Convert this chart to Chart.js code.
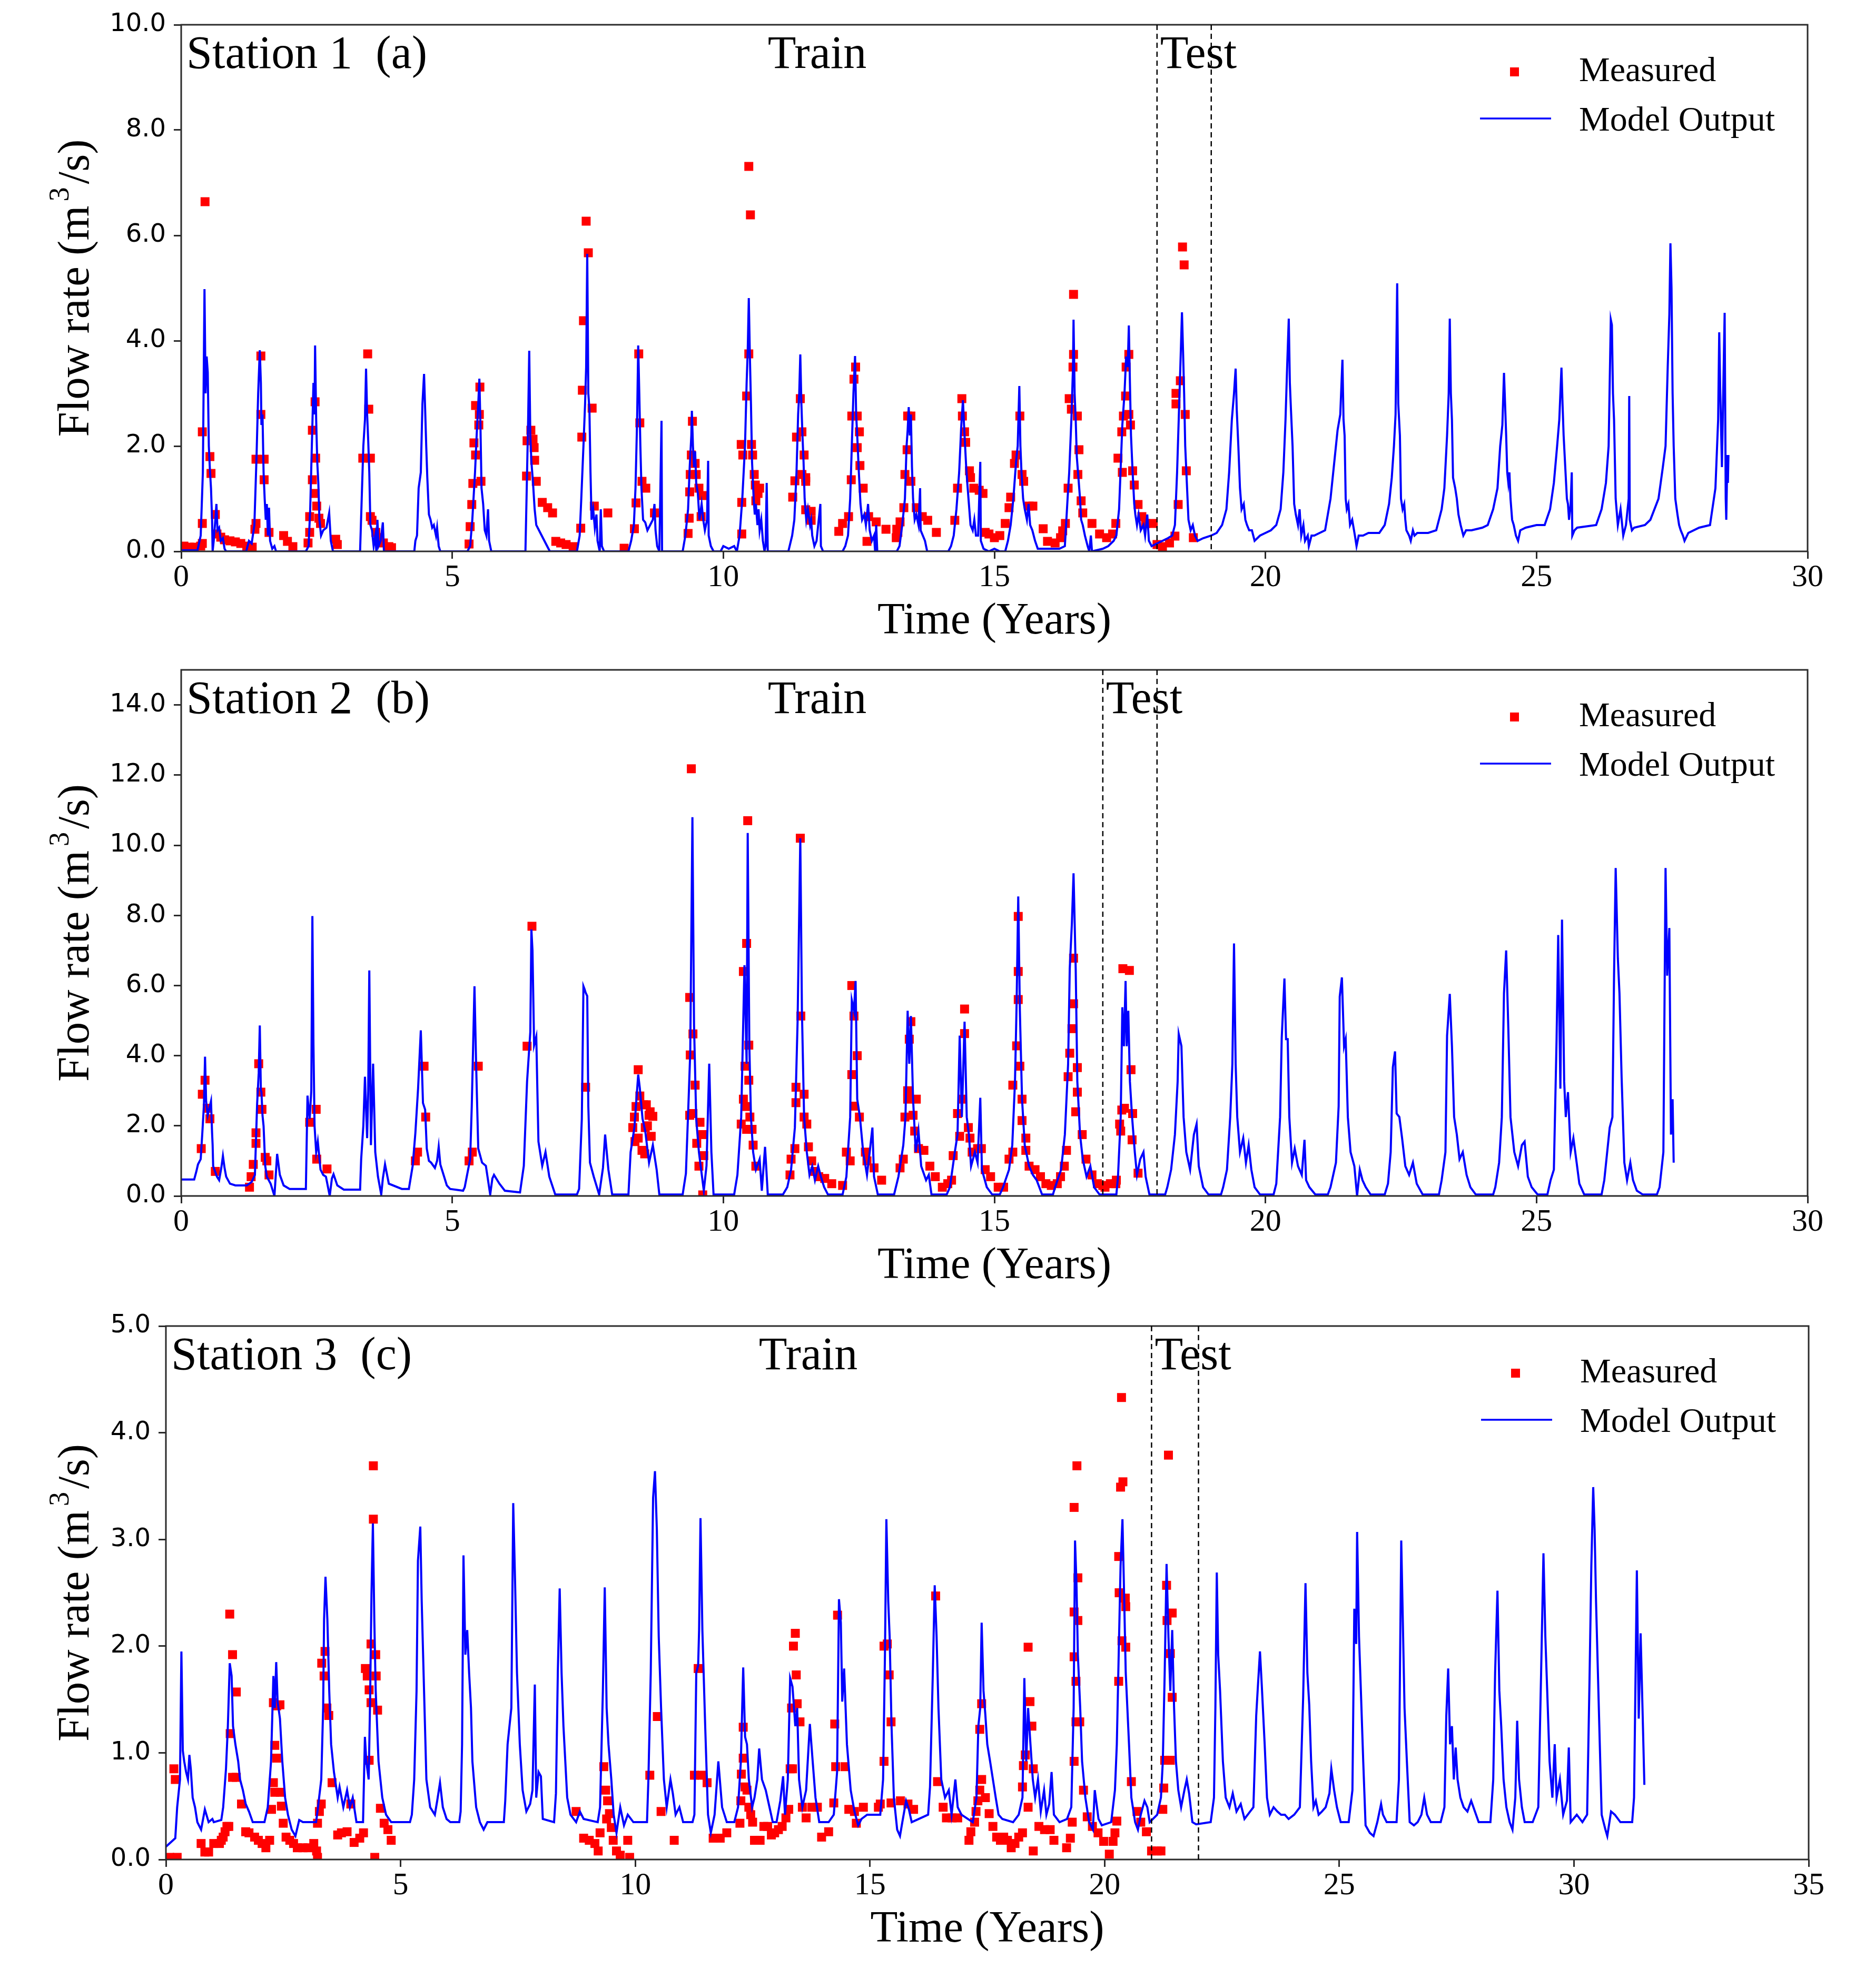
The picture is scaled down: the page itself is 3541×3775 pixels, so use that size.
<!DOCTYPE html>
<html lang="en">
<head>
<meta charset="UTF-8">
<title>Flow rate: measured vs model output</title>
<script src="https://cdn.jsdelivr.net/npm/chart.js"></script>
<style>
  body { margin: 0; background: #fff; width: 3541px; height: 3775px; position: relative; overflow: hidden; }
  canvas { position: absolute; left: 0; }
</style>
</head>
<body>
<canvas id="panel1" width="3541" height="1222" style="top:0px"></canvas>
<canvas id="panel2" width="3541" height="1246" style="top:1222px"></canvas>
<canvas id="panel3" width="3541" height="1307" style="top:2468px"></canvas>
<script>
// ---- data: [time in years, flow in m3/s] ----

// Station 1
const s1Split = [18, 19];
const s1Model = [
  [0,0.02],[0.3,0.02],[0.36,0.3],[0.4,1.5],[0.43,4.98],[0.45,3.0],[0.47,3.7],[0.49,3.4],[0.51,2.0],[0.53,1.55],[0.55,1.2],[0.57,0.6],[0.58,0],[0.6,0.2],[0.63,0.6],[0.65,0.9],[0.67,0.4],[0.7,0.45],[0.73,0.2],[0.77,0.25],[0.8,0.05],[0.83,0],
  [1.2,0],[1.25,0.2],[1.3,0.15],[1.35,0.5],[1.39,1.8],[1.42,3.0],[1.45,3.82],[1.47,3.2],[1.48,2.4],[1.5,2.6],[1.52,1.5],[1.54,1.0],[1.56,0.6],[1.58,0.9],[1.6,0.3],[1.62,0.83],[1.64,0.2],[1.68,0.05],[1.72,0.1],[1.75,0],
  [2.3,0],[2.35,0.1],[2.38,0.8],[2.41,2.0],[2.44,3.2],[2.46,2.6],[2.47,3.91],[2.49,2.5],[2.51,1.7],[2.53,1.3],[2.55,0.6],[2.58,0.3],[2.62,0.4],[2.68,0.45],[2.73,0.73],[2.76,0.2],[2.8,0],
  [3.3,0],[3.33,1.0],[3.36,2.0],[3.39,2.5],[3.41,3.47],[3.43,2.6],[3.45,2.1],[3.47,1.5],[3.49,0.5],[3.52,0.4],[3.55,0.1],[3.58,0.3],[3.6,0],[3.62,0.6],[3.64,0.1],[3.68,0.2],[3.72,0.55],[3.74,0],
  [4.3,0],[4.32,0.2],[4.35,0.3],[4.38,1.2],[4.42,1.5],[4.45,2.8],[4.48,3.37],[4.5,2.7],[4.52,2.0],[4.54,1.4],[4.57,0.7],[4.6,0.6],[4.63,0.45],[4.66,0.5],[4.7,0.3],[4.72,0.45],[4.75,0.1],[4.78,0],
  [5.28,0],[5.33,0.1],[5.37,0.6],[5.42,1.5],[5.45,2.2],[5.48,2.8],[5.5,3.28],[5.52,2.4],[5.54,1.2],[5.57,0.9],[5.6,0.4],[5.63,0.3],[5.66,0.8],[5.68,0.2],[5.72,0],
  [6.35,0],[6.38,1.5],[6.4,2.5],[6.42,3.81],[6.44,2.2],[6.46,1.7],[6.49,1.3],[6.52,0.8],[6.55,0.5],[6.6,0.4],[6.65,0.3],[6.7,0.2],[6.75,0.1],[6.8,0],
  [7.3,0],[7.35,0.3],[7.38,1.0],[7.42,2.0],[7.45,2.8],[7.47,3.5],[7.49,5.65],[7.51,3.0],[7.53,2.7],[7.55,1.5],[7.57,0.6],[7.6,0.8],[7.63,0.45],[7.66,0.7],[7.68,0.2],[7.72,0],[7.74,0.8],[7.76,0.1],[7.8,0],
  [8.25,0],[8.3,0.2],[8.35,0.5],[8.38,1.2],[8.41,2.5],[8.43,3.91],[8.45,3.0],[8.47,2.0],[8.49,1.2],[8.52,0.6],[8.56,0.55],[8.6,0.4],[8.65,0.5],[8.7,0.6],[8.73,0.9],[8.75,0.4],[8.78,0.1],[8.82,0],[8.86,2.48],[8.87,0],
  [9.25,0],[9.3,0.3],[9.35,0.8],[9.38,1.6],[9.41,2.2],[9.42,2.67],[9.44,2.0],[9.46,1.6],[9.48,1.9],[9.5,1.3],[9.53,1.1],[9.56,0.6],[9.6,0.9],[9.63,0.6],[9.66,0.4],[9.7,0.6],[9.72,1.72],[9.73,0.3],[9.77,0.1],[9.82,0],
  [9.95,0],[10.0,0.1],[10.1,0.05],[10.2,0.1],[10.25,0],[10.3,0.3],[10.35,1.0],[10.4,2.0],[10.43,3.2],[10.45,3.8],[10.47,4.81],[10.49,3.7],[10.51,2.8],[10.53,1.7],[10.56,1.0],[10.58,0.7],[10.6,0.9],[10.63,0.5],[10.65,0.8],[10.67,0.4],[10.7,0.6],[10.73,0.2],[10.76,0],[10.78,0.1],[10.8,1.3],[10.82,0],
  [11.2,0],[11.27,0.3],[11.31,0.6],[11.35,1.5],[11.38,2.6],[11.4,3.0],[11.42,3.74],[11.44,2.8],[11.46,2.2],[11.48,1.7],[11.5,1.0],[11.53,0.6],[11.56,0.8],[11.6,0.5],[11.62,0.6],[11.64,0.3],[11.68,0.1],[11.72,0.2],[11.79,0.9],[11.8,0.1],[11.84,0],
  [12.2,0],[12.25,0.1],[12.3,0.3],[12.34,1.0],[12.37,2.0],[12.4,3.0],[12.43,3.71],[12.45,2.6],[12.47,2.2],[12.5,1.5],[12.53,0.9],[12.56,0.6],[12.6,0.7],[12.63,0.5],[12.67,0.9],[12.7,0.4],[12.74,0.2],[12.78,0.3],[12.8,0],[12.82,0.5],[12.84,0],
  [13.2,0],[13.25,0.1],[13.3,0.5],[13.35,1.0],[13.38,2.0],[13.4,2.3],[13.42,2.74],[13.44,2.2],[13.46,2.6],[13.48,1.6],[13.5,1.0],[13.53,0.6],[13.56,0.7],[13.6,0.5],[13.63,1.2],[13.64,0.4],[13.68,0.3],[13.72,0.2],[13.76,0],
  [14.15,0],[14.2,0.1],[14.25,0.3],[14.3,0.8],[14.35,1.5],[14.39,2.4],[14.42,2.87],[14.44,2.4],[14.46,2.0],[14.48,1.6],[14.5,1.3],[14.53,0.9],[14.56,0.5],[14.6,0.4],[14.63,0.6],[14.66,0.3],[14.7,0.3],[14.74,1.7],[14.75,0.2],[14.8,0.05],[14.9,0],[15.0,0.05],[15.1,0],
  [15.2,0],[15.25,0.2],[15.3,0.5],[15.35,1.0],[15.4,1.7],[15.43,2.0],[15.46,3.14],[15.48,2.0],[15.5,1.5],[15.53,1.0],[15.56,0.8],[15.6,0.6],[15.63,0.9],[15.66,0.5],[15.7,0.4],[15.75,0.2],[15.8,0.05],[16.2,0.05],
  [16.3,0.1],[16.35,1.0],[16.38,1.5],[16.42,2.5],[16.45,3.5],[16.46,4.4],[16.48,3.0],[16.5,2.5],[16.52,1.8],[16.55,1.4],[16.58,1.0],[16.6,0.6],[16.63,0.5],[16.67,0.3],[16.72,0.1],[16.75,0],[16.78,0.3],[16.8,0],[17.0,0.05],[17.1,0.1],[17.2,0.2],
  [17.25,0.3],[17.3,0.8],[17.33,1.6],[17.36,2.4],[17.4,3.0],[17.43,3.7],[17.46,3.5],[17.48,4.29],[17.5,3.2],[17.52,2.2],[17.55,1.5],[17.58,0.9],[17.6,0.7],[17.63,0.5],[17.66,0.7],[17.7,0.4],[17.75,0.5],[17.78,0.3],[17.82,0.7],[17.85,0.2],[17.9,0.1],[18.0,0.15],
  [18.1,0.2],[18.2,0.25],[18.28,0.3],[18.33,0.5],[18.37,1.5],[18.4,2.5],[18.43,3.5],[18.46,4.54],[18.48,3.8],[18.5,3.0],[18.52,2.0],[18.55,1.3],[18.58,0.6],[18.62,0.4],[18.66,0.5],[18.7,0.3],[18.75,0.2],[18.85,0.25],
  [19.0,0.3],[19.1,0.35],[19.2,0.5],[19.28,0.8],[19.33,1.5],[19.38,2.5],[19.42,3.0],[19.45,3.47],[19.47,2.7],[19.5,2.0],[19.53,1.2],[19.56,0.8],[19.6,0.9],[19.63,0.6],[19.66,0.5],[19.7,0.4],[19.75,0.4],[19.8,0.2],[19.9,0.3],
  [20.0,0.35],[20.1,0.4],[20.2,0.5],[20.28,0.8],[20.33,1.5],[20.37,2.5],[20.4,3.5],[20.43,4.42],[20.45,3.2],[20.47,2.7],[20.5,2.0],[20.53,0.9],[20.56,0.7],[20.6,0.5],[20.63,0.8],[20.66,0.3],[20.7,0.5],[20.73,0.2],[20.78,0.3],[20.8,0.1],[20.85,0.3],[20.9,0.3],
  [21.0,0.35],[21.1,0.4],[21.2,1.0],[21.28,1.8],[21.33,2.3],[21.38,2.6],[21.42,3.64],[21.44,2.5],[21.46,2.2],[21.48,1.0],[21.5,0.8],[21.53,0.9],[21.56,0.5],[21.6,0.6],[21.65,0.3],[21.68,0.1],[21.72,0.3],[21.8,0.3],[21.9,0.35],
  [22.1,0.35],[22.2,0.5],[22.28,0.9],[22.33,1.4],[22.37,2.0],[22.4,2.6],[22.43,5.09],[22.45,2.8],[22.48,2.2],[22.5,1.0],[22.53,0.8],[22.56,0.9],[22.58,0.6],[22.6,0.4],[22.65,0.3],[22.68,0.2],[22.72,0.4],[22.75,0.3],[22.8,0.35],
  [23.0,0.35],[23.15,0.4],[23.25,0.8],[23.3,1.2],[23.35,2.2],[23.38,3.0],[23.4,4.42],[23.42,3.0],[23.44,2.5],[23.46,1.4],[23.5,1.2],[23.53,1.0],[23.56,0.7],[23.6,0.5],[23.65,0.3],[23.7,0.4],[23.8,0.4],
  [24.0,0.45],[24.1,0.5],[24.2,0.8],[24.28,1.2],[24.33,2.0],[24.37,2.4],[24.4,3.39],[24.42,2.8],[24.44,2.2],[24.46,1.5],[24.48,1.3],[24.5,1.5],[24.52,1.0],[24.55,0.6],[24.58,0.5],[24.62,0.3],[24.66,0.2],[24.7,0.4],[24.8,0.45],
  [25.0,0.5],[25.15,0.5],[25.25,0.8],[25.32,1.3],[25.38,2.0],[25.42,2.5],[25.46,3.49],[25.48,2.8],[25.5,2.2],[25.53,1.6],[25.56,1.0],[25.58,0.9],[25.6,0.6],[25.63,0.9],[25.65,1.5],[25.66,0.3],[25.7,0.4],[25.75,0.45],
  [26.1,0.5],[26.2,0.8],[26.28,1.3],[26.33,2.0],[26.37,4.4],[26.39,4.3],[26.41,3.0],[26.43,2.5],[26.46,1.0],[26.5,0.5],[26.55,0.8],[26.6,0.3],[26.65,0.5],[26.7,1.0],[26.71,2.95],[26.72,0.6],[26.76,0.4],[26.8,0.45],
  [27.0,0.5],[27.1,0.6],[27.25,1.0],[27.33,1.6],[27.38,2.0],[27.42,3.5],[27.45,4.5],[27.47,5.85],[27.49,5.0],[27.51,3.0],[27.53,2.0],[27.56,1.0],[27.6,0.7],[27.63,0.5],[27.66,0.4],[27.7,0.3],[27.73,0.2],[27.8,0.35],
  [28.0,0.45],[28.2,0.5],[28.3,1.2],[28.35,2.5],[28.37,4.16],[28.39,3.0],[28.42,1.6],[28.44,2.8],[28.47,4.53],[28.49,1.0],[28.5,0.6],[28.52,1.83],[28.53,1.3],[28.54,1.83]
];
const s1Measured = [
  [0.05,0.1],[0.15,0.08],[0.25,0.08],[0.36,0.1],[0.39,0.15],[0.39,0.53],[0.39,2.27],[0.44,6.64],[0.53,1.8],[0.55,1.48],[0.63,0.7],[0.66,0.33],[0.73,0.27],[0.8,0.22],[0.9,0.2],[1.0,0.18],[1.1,0.15],[1.21,0.1],[1.31,0.08],
  [1.36,0.42],[1.38,0.53],[1.38,1.75],[1.47,3.71],[1.47,2.6],[1.53,1.75],[1.53,1.36],[1.62,0.36],[1.89,0.3],[1.96,0.19],[2.06,0.09],
  [2.34,0.16],[2.37,0.36],[2.37,0.66],[2.42,1.36],[2.42,2.3],[2.47,2.84],[2.48,1.77],[2.47,1.1],[2.5,0.86],[2.54,0.63],[2.57,0.53],[2.85,0.23],[2.88,0.13],
  [3.35,1.77],[3.44,3.75],[3.46,2.7],[3.49,1.77],[3.49,0.66],[3.52,0.59],[3.59,0.36],[3.66,0.26],[3.73,0.16],[3.83,0.09],[3.88,0.07],
  [5.31,0.14],[5.33,0.47],[5.36,0.89],[5.38,1.29],[5.4,2.06],[5.43,1.83],[5.43,2.77],[5.49,2.4],[5.5,2.6],[5.51,3.12],[5.53,1.33],
  [6.37,1.43],[6.38,2.1],[6.45,2.3],[6.49,2.13],[6.51,1.97],[6.52,1.73],[6.55,1.33],[6.66,0.93],[6.76,0.83],[6.85,0.73],[6.91,0.19],[7.0,0.16],[7.1,0.13],[7.23,0.09],
  [7.37,0.44],[7.39,2.17],[7.4,3.06],[7.42,4.38],[7.47,6.27],[7.51,5.67],[7.58,2.72],[7.62,0.86],[7.87,0.73],
  [8.17,0.06],[8.36,0.43],[8.39,0.92],[8.44,3.75],[8.46,2.44],[8.5,1.33],[8.57,1.2],[8.73,0.73],
  [9.35,0.34],[9.37,0.63],[9.38,1.13],[9.39,1.46],[9.41,1.83],[9.43,2.47],[9.48,1.67],[9.5,1.46],[9.55,1.2],[9.62,1.06],[9.59,0.66],
  [10.34,0.93],[10.34,0.33],[10.33,2.03],[10.36,1.83],[10.43,2.95],[10.47,3.75],[10.47,7.31],[10.5,6.39],[10.52,2.03],[10.54,1.83],[10.57,1.46],[10.59,1.26],[10.64,1.1],[10.6,0.96],[10.67,1.2],
  [11.28,1.03],[11.32,1.34],[11.35,2.17],[11.42,2.9],[11.45,2.27],[11.49,1.83],[11.45,1.46],[11.52,1.4],[11.52,1.33],[11.52,0.79],[11.62,0.76],[11.62,0.59],
  [12.13,0.38],[12.2,0.53],[12.31,0.66],[12.36,1.36],[12.37,2.57],[12.41,3.27],[12.44,3.5],[12.47,2.57],[12.51,2.27],[12.47,1.97],[12.52,1.63],[12.58,1.2],[12.68,0.66],[12.82,0.56],[12.65,0.19],[13.0,0.42],[13.2,0.42],[13.26,0.56],
  [13.33,0.83],[13.35,1.46],[13.39,1.93],[13.4,2.57],[13.46,2.57],[13.46,1.33],[13.56,0.83],[13.67,0.66],[13.77,0.59],[13.93,0.36],[13.19,0.26],[13.22,0.36],
  [14.27,0.59],[14.32,1.2],[14.4,2.9],[14.41,2.57],[14.45,2.27],[14.47,2.07],[14.54,1.53],[14.56,1.4],[14.62,1.2],[14.72,1.16],[14.79,1.1],[14.83,0.36],[14.9,0.33],[15.0,0.26],[15.1,0.3],[15.2,0.53],
  [15.27,0.83],[15.3,1.03],[15.37,1.67],[15.4,1.83],[15.47,2.57],[15.51,1.46],[15.54,1.33],[15.64,0.86],[15.71,0.86],[15.9,0.43],[15.98,0.19],[16.12,0.16],[16.22,0.26],[16.26,0.39],
  [16.31,0.53],[16.36,1.2],[16.38,2.9],[16.42,2.7],[16.45,3.5],[16.46,3.74],[16.46,4.88],[16.53,2.57],[16.56,1.93],[16.54,1.46],[16.6,0.96],[16.63,0.73],[16.8,0.53],[16.94,0.33],[17.07,0.26],[17.18,0.33],[17.24,0.53],
  [17.28,1.77],[17.36,1.5],[17.35,2.27],[17.38,2.57],[17.42,2.95],[17.43,3.5],[17.48,3.74],[17.48,2.6],[17.51,2.4],[17.55,1.53],[17.58,1.26],[17.65,0.89],[17.72,0.66],[17.79,0.53],[17.93,0.53],
  [18.0,0.13],[18.1,0.09],[18.23,0.16],[18.33,0.29],[18.39,0.89],[18.35,2.8],[18.35,3.0],[18.43,3.24],[18.47,5.78],[18.5,5.44],[18.52,2.6],[18.54,1.53],[18.67,0.26]
];

// Station 2
const s2Split = [17, 18];
const s2Model = [
  [0,0.47],[0.24,0.47],[0.28,0.7],[0.31,0.9],[0.36,1.05],[0.39,1.8],[0.42,2.6],[0.44,3.97],[0.46,2.7],[0.49,2.3],[0.52,2.5],[0.55,2.7],[0.57,1.8],[0.58,1.45],[0.59,0.85],[0.66,0.55],[0.7,0.45],[0.74,0.8],[0.77,1.14],[0.8,0.8],[0.83,0.55],[0.9,0.35],[1.0,0.3],[1.21,0.3],
  [1.3,0.4],[1.36,0.6],[1.4,2.6],[1.43,3.5],[1.45,4.86],[1.47,3.0],[1.48,2.97],[1.5,2.3],[1.52,1.99],[1.55,0.86],[1.58,0.55],[1.65,0.35],[1.72,0],[1.77,1.2],[1.82,0.6],[1.89,0.3],[2.0,0.2],[2.3,0.2],
  [2.33,2.86],[2.35,2.5],[2.37,2.2],[2.4,3.0],[2.42,7.98],[2.44,4.3],[2.46,2.0],[2.49,1.25],[2.52,1.55],[2.57,0.75],[2.62,0.6],[2.67,0.55],[2.74,0],[2.78,0.5],[2.81,0.62],[2.88,0.3],[3.0,0.18],[3.3,0.18],
  [3.32,1.05],[3.36,2.0],[3.39,3.4],[3.43,1.65],[3.45,3.0],[3.47,6.43],[3.5,1.45],[3.54,3.77],[3.58,1.25],[3.63,0.55],[3.69,0.04],[3.72,0.5],[3.76,0.9],[3.83,0.35],[4.07,0.2],[4.2,0.2],
  [4.27,0.86],[4.32,1.8],[4.37,3.07],[4.42,4.72],[4.46,2.65],[4.5,2.46],[4.53,1.35],[4.57,1.0],[4.61,0.95],[4.68,0.8],[4.72,1.0],[4.75,1.4],[4.78,0.9],[4.82,0.7],[4.9,0.3],[4.96,0.2],[5.2,0.15],[5.23,0.25],
  [5.33,1.05],[5.36,2.56],[5.41,5.98],[5.44,3.77],[5.48,1.35],[5.55,0.95],[5.62,0.86],[5.7,0.04],[5.74,0.5],[5.77,0.6],[5.87,0.35],[5.97,0.15],[6.25,0.1],
  [6.32,0.86],[6.38,3.26],[6.44,4.68],[6.46,7.6],[6.48,7.0],[6.51,4.3],[6.55,4.54],[6.59,1.55],[6.66,0.86],[6.72,1.25],[6.79,0.55],[6.9,0.04],[7.3,0.04],
  [7.34,0.2],[7.39,2.2],[7.42,5.98],[7.44,5.9],[7.46,5.8],[7.49,5.7],[7.51,2.56],[7.54,0.95],[7.61,0.55],[7.71,0.04],[7.78,0.8],[7.82,1.75],[7.88,0.75],[7.95,0.04],[8.25,0.04],
  [8.29,1.25],[8.36,1.95],[8.43,3.46],[8.46,3.07],[8.51,2.2],[8.56,1.85],[8.63,0.95],[8.7,1.45],[8.77,0.75],[8.82,0.04],[9.25,0.04],
  [9.31,0.64],[9.36,2.76],[9.39,4.1],[9.43,10.8],[9.46,4.86],[9.5,2.2],[9.55,1.25],[9.64,0.15],[9.69,0.86],[9.74,3.77],[9.78,1.25],[9.82,0.04],[10.2,0.04],
  [10.26,0.6],[10.33,2.25],[10.39,6.58],[10.43,3.77],[10.45,10.35],[10.48,4.27],[10.51,2.25],[10.55,1.25],[10.6,0.75],[10.67,1.05],[10.71,0.15],[10.77,1.4],[10.82,0.04],[11.1,0.04],
  [11.18,0.25],[11.25,0.75],[11.32,1.95],[11.37,4.97],[11.42,10.2],[11.45,5.28],[11.49,2.25],[11.54,1.25],[11.59,0.6],[11.64,0.85],[11.69,0.45],[11.75,0.85],[11.8,0.55],[11.86,0.25],[11.93,0.04],[12.2,0.04],
  [12.27,0.55],[12.34,2.25],[12.37,5.58],[12.41,5.28],[12.44,6.13],[12.47,2.76],[12.52,2.25],[12.58,1.25],[12.65,0.6],[12.7,1.25],[12.75,1.95],[12.78,0.55],[12.85,0.04],[13.15,0.04],
  [13.23,0.55],[13.32,1.45],[13.36,2.25],[13.4,5.28],[13.43,3.77],[13.46,5.13],[13.5,2.76],[13.55,1.25],[13.6,1.85],[13.65,0.85],[13.74,0.45],[13.79,0.6],[13.84,0.04],[14.12,0.04],
  [14.18,0.25],[14.27,1.25],[14.32,1.75],[14.36,4.57],[14.4,2.25],[14.45,4.97],[14.49,2.25],[14.53,1.75],[14.57,0.85],[14.64,1.25],[14.69,0.95],[14.74,2.8],[14.77,0.75],[14.86,0.25],[14.96,0.04],[15.1,0.04],
  [15.16,0.25],[15.27,0.75],[15.33,1.45],[15.38,3.26],[15.41,5.48],[15.44,8.54],[15.47,5.28],[15.51,2.76],[15.56,1.45],[15.64,0.85],[15.71,0.6],[15.78,0.45],[15.88,0.04],[16.08,0.04],
  [16.12,0.25],[16.23,0.75],[16.3,1.75],[16.36,3.77],[16.39,6.48],[16.43,7.79],[16.46,9.2],[16.5,6.48],[16.53,3.26],[16.58,1.75],[16.63,1.05],[16.7,0.55],[16.77,0.85],[16.84,0.25],[16.94,0.04],[17.25,0.04],
  [17.28,0.55],[17.33,2.25],[17.36,5.38],[17.39,4.27],[17.42,6.13],[17.44,4.27],[17.47,5.28],[17.5,3.26],[17.54,2.25],[17.59,1.25],[17.63,0.6],[17.69,1.05],[17.75,1.25],[17.79,0.55],[17.86,0.04],[18.15,0.04],
  [18.19,0.25],[18.26,0.75],[18.33,1.75],[18.38,3.26],[18.4,4.62],[18.45,4.27],[18.49,2.25],[18.54,1.25],[18.61,0.75],[18.68,1.75],[18.73,2.05],[18.77,0.85],[18.85,0.25],[18.95,0.04],[19.18,0.04],
  [19.22,0.25],[19.29,0.75],[19.35,2.25],[19.39,3.77],[19.42,7.2],[19.45,3.77],[19.48,2.25],[19.53,1.25],[19.59,1.65],[19.64,0.95],[19.69,1.45],[19.74,0.75],[19.8,0.25],[19.9,0.04],[20.15,0.04],
  [20.2,0.35],[20.27,2.25],[20.3,4.5],[20.35,6.2],[20.38,4.47],[20.41,4.47],[20.44,2.25],[20.49,0.95],[20.54,1.35],[20.6,0.85],[20.67,0.6],[20.72,1.6],[20.75,0.45],[20.81,0.25],[20.92,0.04],[21.15,0.04],
  [21.2,0.25],[21.3,0.95],[21.35,2.56],[21.37,5.68],[21.41,6.23],[21.45,4.27],[21.48,4.47],[21.52,2.25],[21.57,1.25],[21.64,0.85],[21.69,0],[21.74,0.75],[21.79,0.45],[21.85,0.25],[21.94,0.04],[22.2,0.04],
  [22.26,0.35],[22.31,1.25],[22.35,3.67],[22.39,4.12],[22.42,2.35],[22.47,2.25],[22.52,1.65],[22.58,0.85],[22.65,0.6],[22.72,0.95],[22.79,0.35],[22.9,0.04],[23.2,0.04],
  [23.25,0.45],[23.32,1.25],[23.35,4.57],[23.4,5.76],[23.44,4.27],[23.48,2.25],[23.53,1.75],[23.58,1.05],[23.64,1.25],[23.71,0.6],[23.78,0.25],[23.88,0.04],[24.2,0.04],
  [24.24,0.25],[24.31,0.95],[24.36,2.25],[24.4,5.78],[24.44,7.0],[24.48,4.77],[24.52,2.25],[24.59,1.25],[24.66,0.85],[24.73,1.45],[24.78,1.55],[24.84,0.55],[24.91,0.25],[25.02,0.04],[25.2,0.04],
  [25.26,0.45],[25.32,0.75],[25.37,4.47],[25.4,7.44],[25.44,3.06],[25.47,7.88],[25.51,3.26],[25.54,2.25],[25.58,2.96],[25.63,1.25],[25.68,1.65],[25.74,0.95],[25.79,0.35],[25.88,0.04],[26.2,0.04],
  [26.25,0.45],[26.35,1.95],[26.4,2.25],[26.43,6.28],[26.46,9.35],[26.5,6.78],[26.53,5.78],[26.57,3.36],[26.62,0.95],[26.67,0.45],[26.73,0.95],[26.78,0.45],[26.85,0.15],[26.96,0.04],[27.22,0.04],
  [27.27,0.25],[27.34,1.25],[27.38,9.35],[27.41,6.28],[27.45,7.64],[27.48,1.75],[27.51,2.76],[27.53,0.95]
];
const s2Measured = [
  [0.37,1.35],[0.39,2.9],[0.44,3.3],[0.48,2.5],[0.53,2.2],[0.63,0.7],
  [1.26,0.25],[1.29,0.55],[1.33,0.9],[1.38,1.5],[1.38,1.8],[1.43,3.77],[1.47,2.96],[1.49,2.47],[1.55,1.1],[1.58,1.0],[1.62,0.6],
  [2.37,2.1],[2.49,2.47],[2.5,1.05],[2.69,0.77],
  [4.32,1.0],[4.36,1.25],[4.48,3.7],[4.51,2.25],
  [5.31,1.0],[5.37,1.25],[5.48,3.7],
  [6.38,4.27],[6.47,7.69],
  [7.46,3.1],
  [8.33,1.95],[8.36,2.25],[8.39,2.55],[8.43,3.6],[8.46,2.85],[8.53,2.6],[8.63,2.3],[8.7,2.27],[8.37,1.55],[8.43,1.65],[8.5,1.3],[8.56,1.95],[8.67,1.7],[8.55,1.2],[8.6,2.0],[8.65,2.4],[8.58,2.6],
  [9.38,5.66],[9.41,12.18],[9.39,4.02],[9.44,4.62],[9.48,3.16],[9.38,2.3],[9.44,2.35],[9.57,2.1],[9.51,1.5],[9.55,0.85],[9.62,1.75],[9.64,1.15],[9.62,0.03],
  [10.45,10.7],[10.43,7.2],[10.37,6.4],[10.47,4.3],[10.4,3.7],[10.47,3.3],[10.37,2.76],[10.43,2.55],[10.49,2.25],[10.33,2.05],[10.43,1.9],[10.53,1.9],[10.55,1.45],[10.6,0.85],
  [11.42,10.2],[11.43,5.13],[11.34,3.1],[11.49,2.9],[11.34,2.66],[11.49,2.25],[11.54,2.05],[11.32,1.35],[11.57,1.4],[11.25,1.05],[11.63,1.0],[11.23,0.6],[11.69,0.7],[11.76,0.55],[11.87,0.5],[12.0,0.35],[12.2,0.3],[12.27,1.25],
  [12.37,6.0],[12.41,5.13],[12.47,4.0],[12.37,3.46],[12.41,2.56],[12.51,2.25],[12.34,1.0],[12.62,1.25],[12.65,1.0],[12.78,0.8],[12.92,0.45],
  [13.26,0.8],[13.32,1.05],[13.35,2.25],[13.4,3.0],[13.43,4.47],[13.46,4.97],[13.4,2.76],[13.56,2.76],[13.5,2.3],[13.53,1.85],[13.6,1.35],[13.7,1.3],[13.81,0.85],[13.91,0.55],[14.04,0.25],[14.14,0.35],[14.21,0.45],
  [14.24,1.15],[14.32,2.35],[14.36,1.7],[14.41,2.76],[14.45,4.63],[14.45,5.33],[14.52,1.95],[14.55,1.65],[14.59,1.25],[14.69,1.35],[14.76,1.35],[14.83,0.75],[14.93,0.55],[15.07,0.25],[15.17,0.25],[15.27,1.05],
  [15.34,1.25],[15.34,3.16],[15.41,4.28],[15.44,5.6],[15.44,6.4],[15.44,7.97],[15.47,3.7],[15.51,2.76],[15.51,2.15],[15.58,1.65],[15.58,1.3],[15.64,0.85],[15.75,0.75],[15.85,0.55],[15.95,0.35],[16.05,0.3],[16.16,0.35],[16.22,0.55],[16.29,0.85],
  [16.33,1.3],[16.36,3.4],[16.39,4.07],[16.43,4.77],[16.46,5.48],[16.46,6.78],[16.53,3.66],[16.5,2.4],[16.53,2.96],[16.62,1.75],[16.69,1.05],[16.8,0.6],[16.9,0.35],[17.0,0.3],[17.04,0.25],[17.14,0.35],[17.25,0.45],
  [17.31,2.05],[17.35,2.45],[17.33,1.85],[17.37,6.48],[17.49,6.43],[17.4,2.5],[17.52,3.6],[17.55,2.35],[17.54,1.6],[17.65,0.65],[17.24,0.35]
];

// Station 3
const s3Split = [21, 22];
const s3Model = [
  [0,0.12],[0.2,0.2],[0.24,0.49],[0.3,0.75],[0.33,1.95],[0.36,1.02],[0.39,0.92],[0.43,0.82],[0.47,0.75],[0.5,0.98],[0.53,0.85],[0.57,0.58],[0.62,0.49],[0.67,0.35],[0.75,0.28],[0.83,0.47],[0.91,0.35],[0.99,0.38],[1.02,0.35],[1.18,0.37],
  [1.22,0.49],[1.28,0.85],[1.32,1.25],[1.36,1.84],[1.4,1.72],[1.43,1.25],[1.48,1.08],[1.54,0.92],[1.58,0.75],[1.64,0.65],[1.7,0.52],[1.77,0.45],[1.85,0.35],[2.1,0.35],
  [2.17,0.49],[2.24,0.92],[2.29,1.72],[2.32,1.42],[2.35,1.85],[2.38,1.48],[2.43,1.32],[2.48,0.92],[2.54,0.58],[2.6,0.42],[2.68,0.28],[2.76,0.22],[2.84,0.37],[2.92,0.35],[3.2,0.35],
  [3.24,0.49],[3.31,0.75],[3.35,1.42],[3.37,2.25],[3.4,2.65],[3.44,2.25],[3.48,1.58],[3.52,1.08],[3.58,0.82],[3.66,0.58],[3.7,0.68],[3.78,0.49],[3.86,0.65],[3.92,0.49],[3.98,0.58],[4.06,0.35],[4.2,0.35],
  [4.24,1.15],[4.27,0.92],[4.32,0.75],[4.35,1.48],[4.38,2.49],[4.41,3.15],[4.44,2.25],[4.47,1.58],[4.53,0.92],[4.61,0.58],[4.69,0.42],[4.8,0.35],[5.2,0.35],
  [5.24,0.42],[5.29,0.75],[5.34,1.58],[5.37,2.8],[5.42,3.12],[5.45,2.42],[5.5,1.58],[5.55,0.75],[5.63,0.49],[5.73,0.42],[5.78,0.55],[5.84,0.72],[5.9,0.49],[5.98,0.38],[6.06,0.35],[6.25,0.35],
  [6.28,0.45],[6.31,1.08],[6.34,2.85],[6.38,1.92],[6.42,2.15],[6.46,1.75],[6.5,1.42],[6.53,0.92],[6.61,0.49],[6.69,0.35],[6.77,0.28],[6.85,0.35],[7.2,0.35],
  [7.23,0.55],[7.28,1.08],[7.36,1.42],[7.4,3.34],[7.44,2.59],[7.48,1.75],[7.54,1.08],[7.6,0.65],[7.68,0.45],[7.76,0.52],[7.81,0.65],[7.86,1.64],[7.89,0.58],[7.94,0.82],[7.99,0.78],[8.03,0.38],[8.27,0.35],
  [8.31,0.62],[8.35,1.75],[8.39,2.54],[8.43,1.75],[8.47,1.25],[8.55,0.58],[8.62,0.42],[8.74,0.35],[8.82,0.45],[8.9,0.38],[9.2,0.35],
  [9.25,0.49],[9.31,1.58],[9.35,2.55],[9.39,1.42],[9.43,1.08],[9.49,0.75],[9.54,0.42],[9.6,0.25],[9.68,0.49],[9.76,0.32],[9.84,0.42],[9.96,0.35],[10.25,0.35],
  [10.28,0.75],[10.33,1.75],[10.38,3.39],[10.42,3.64],[10.46,3.09],[10.5,2.09],[10.55,1.42],[10.61,0.75],[10.67,0.49],[10.75,0.75],[10.8,0.62],[10.86,0.42],[10.94,0.49],[11.02,0.35],[11.22,0.35],
  [11.26,0.42],[11.3,1.75],[11.34,1.82],[11.36,2.15],[11.39,3.2],[11.43,2.15],[11.49,1.25],[11.55,0.42],[11.61,0.25],[11.69,0.42],[11.77,0.92],[11.85,0.49],[11.95,0.35],
  [12.11,0.35],[12.19,0.49],[12.25,0.92],[12.3,1.8],[12.34,1.15],[12.38,1.08],[12.42,0.75],[12.49,0.49],[12.54,0.58],[12.6,0.75],[12.64,1.04],[12.7,0.75],[12.78,0.65],[12.86,0.49],[12.93,0.35],[13.01,0.35],
  [13.09,0.55],[13.15,0.78],[13.19,0.42],[13.25,0.75],[13.3,1.7],[13.35,1.62],[13.41,1.25],[13.45,1.42],[13.49,0.75],[13.56,0.49],[13.64,0.65],[13.72,1.27],[13.78,0.92],[13.84,0.58],[13.92,0.35],[14.12,0.35],
  [14.23,0.42],[14.3,0.82],[14.34,2.44],[14.38,2.22],[14.41,1.48],[14.45,1.79],[14.51,1.08],[14.59,0.65],[14.67,0.45],[14.75,0.32],[14.82,0.38],[14.94,0.42],[15.22,0.42],
  [15.28,0.75],[15.32,1.92],[15.35,3.19],[15.39,2.42],[15.42,2.09],[15.46,1.25],[15.51,0.58],[15.58,0.28],[15.64,0.22],[15.69,0.35],[15.77,0.55],[15.83,0.47],[15.89,0.35],[16.24,0.42],
  [16.28,0.68],[16.34,1.75],[16.38,2.57],[16.42,2.09],[16.46,1.42],[16.52,0.75],[16.6,0.58],[16.68,0.65],[16.74,0.42],[16.82,0.75],[16.87,0.49],[16.95,0.42],[17.19,0.35],
  [17.27,0.58],[17.31,1.25],[17.35,1.42],[17.38,2.22],[17.42,1.58],[17.46,1.35],[17.5,1.08],[17.56,0.92],[17.62,0.75],[17.68,0.58],[17.74,0.42],[17.82,0.38],[18.05,0.35],
  [18.17,0.42],[18.25,0.58],[18.29,1.7],[18.33,0.92],[18.37,1.42],[18.42,1.08],[18.47,0.75],[18.52,0.58],[18.58,0.75],[18.64,0.45],[18.71,0.65],[18.76,0.42],[18.82,0.52],[18.87,0.82],[18.92,0.42],[19.04,0.35],
  [19.2,0.38],[19.29,0.49],[19.34,1.42],[19.37,2.99],[19.4,2.59],[19.43,1.92],[19.48,1.42],[19.52,0.92],[19.59,0.58],[19.67,0.35],[19.75,0.28],[19.79,0.65],[19.87,0.38],[19.94,0.32],[20.14,0.35],
  [20.22,0.65],[20.26,1.08],[20.3,1.92],[20.34,2.75],[20.38,3.19],[20.41,2.59],[20.45,1.75],[20.52,1.08],[20.57,0.58],[20.65,0.35],[20.71,0.28],[20.77,0.42],[20.85,0.55],[20.91,0.49],[20.96,0.35],[21.12,0.42],
  [21.2,0.58],[21.24,0.92],[21.28,1.75],[21.32,2.77],[21.36,2.09],[21.4,1.58],[21.44,2.15],[21.48,1.42],[21.52,0.92],[21.57,0.65],[21.63,0.49],[21.7,0.65],[21.75,0.75],[21.8,0.62],[21.87,0.35],[21.95,0.33],[22.26,0.35],
  [22.33,0.58],[22.36,1.42],[22.39,2.69],[22.42,1.92],[22.46,1.58],[22.52,0.92],[22.58,0.58],[22.66,0.49],[22.73,0.62],[22.81,0.45],[22.9,0.52],[22.98,0.38],[23.1,0.45],
  [23.17,0.49],[23.23,1.35],[23.26,1.58],[23.31,1.95],[23.35,1.62],[23.41,1.08],[23.46,0.58],[23.52,0.42],[23.6,0.49],[23.68,0.45],[23.76,0.42],[23.84,0.42],[23.92,0.38],[24.04,0.42],[24.16,0.49],
  [24.23,1.52],[24.28,2.59],[24.32,1.75],[24.36,1.45],[24.4,0.92],[24.45,0.49],[24.5,0.55],[24.56,0.42],[24.63,0.45],[24.71,0.49],[24.79,0.62],[24.83,0.85],[24.89,0.65],[24.95,0.49],[25.03,0.35],[25.2,0.35],
  [25.28,0.65],[25.32,2.35],[25.36,2.02],[25.38,3.07],[25.42,2.09],[25.46,1.58],[25.51,0.92],[25.56,0.32],[25.65,0.25],[25.73,0.22],[25.81,0.35],[25.89,0.52],[25.93,0.42],[26.01,0.35],[26.22,0.35],
  [26.27,0.75],[26.32,2.99],[26.36,2.09],[26.39,1.42],[26.44,0.92],[26.5,0.35],[26.59,0.32],[26.67,0.35],[26.75,0.42],[26.81,0.58],[26.87,0.42],[26.95,0.35],[27.16,0.35],
  [27.24,0.49],[27.28,1.35],[27.32,1.79],[27.36,1.08],[27.4,1.25],[27.44,0.75],[27.48,1.05],[27.52,0.75],[27.58,0.58],[27.65,0.49],[27.73,0.45],[27.81,0.55],[27.89,0.45],[27.97,0.35],[28.22,0.35],
  [28.28,0.75],[28.32,1.75],[28.37,2.52],[28.41,1.58],[28.45,1.25],[28.5,0.75],[28.56,0.49],[28.63,0.35],[28.69,0.28],[28.75,0.58],[28.79,1.3],[28.83,0.75],[28.89,0.49],[28.95,0.35],[29.12,0.35],
  [29.24,0.49],[29.3,1.75],[29.35,2.87],[29.39,2.09],[29.43,1.58],[29.48,0.92],[29.54,0.58],[29.59,1.08],[29.63,0.58],[29.7,0.75],[29.77,0.42],[29.85,0.55],[29.89,1.05],[29.93,0.35],[30.06,0.42],[30.18,0.35],
  [30.28,0.42],[30.33,1.65],[30.37,2.75],[30.41,3.49],[30.44,3.09],[30.47,2.42],[30.51,1.75],[30.55,1.08],[30.59,0.42],[30.67,0.28],[30.71,0.22],[30.79,0.45],[30.87,0.42],[30.99,0.35],[31.24,0.35],
  [31.28,0.58],[31.34,2.71],[31.38,1.32],[31.42,2.12],[31.46,1.42],[31.5,0.7]
];
const s3Measured = [
  [0.08,0.02],[0.24,0.02],[0.17,0.85],[0.2,0.75],[0.75,0.15],[0.83,0.07],[0.91,0.07],[1.02,0.15],[1.14,0.15],[1.18,0.18],[1.22,0.21],[1.26,0.26],[1.3,0.31],[1.34,0.31],
  [1.36,2.3],[1.42,1.92],[1.5,1.57],[1.37,1.18],[1.42,0.77],[1.5,0.77],[1.61,0.52],[1.7,0.26],[1.77,0.25],[1.89,0.21],[1.97,0.18],[2.05,0.15],[2.13,0.11],[2.21,0.18],
  [2.25,0.47],[2.29,0.72],[2.32,0.63],[2.29,1.47],[2.36,1.44],[2.32,1.07],[2.36,0.95],[2.43,1.45],[2.44,0.63],[2.46,0.5],[2.5,0.34],[2.56,0.21],[2.64,0.18],[2.72,0.15],[2.8,0.11],[2.92,0.11],[3.03,0.11],[3.15,0.15],[3.21,0.08],[3.23,0.02],
  [3.23,0.34],[3.27,0.45],[3.31,0.52],[3.32,1.84],[3.39,1.95],[3.37,1.72],[3.43,1.42],[3.47,1.35],[3.54,0.72],[3.66,0.23],[3.74,0.25],[3.86,0.26],[3.94,0.52],[4.01,0.16],[4.13,0.2],[4.21,0.25],
  [4.25,1.79],[4.29,1.72],[4.33,1.59],[4.37,1.47],[4.33,0.93],[4.37,2.02],[4.42,3.19],[4.42,3.69],[4.47,1.92],[4.48,1.72],[4.51,1.4],[4.57,0.48],[4.65,0.34],[4.73,0.28],[4.8,0.18],[4.45,0.02],
  [8.74,0.45],[8.9,0.2],[9.02,0.18],[9.14,0.15],[9.21,0.08],[9.25,0.25],[9.33,0.87],[9.37,0.65],[9.39,0.38],[9.41,0.55],[9.45,0.43],[9.49,0.3],[9.53,0.18],[9.6,0.08],[9.68,0.04],[9.84,0.18],[9.88,0.02],
  [10.31,0.79],[10.47,1.34],[10.55,0.45],[10.83,0.18],
  [11.26,0.79],[11.34,1.79],[11.42,0.79],[11.53,0.72],[11.66,0.2],[11.81,0.2],
  [11.95,0.25],[12.23,0.34],[12.3,1.24],[12.3,0.95],[12.26,0.8],[12.34,0.68],[12.25,0.55],[12.38,0.65],[12.42,0.49],[12.46,0.42],[12.5,0.35],[12.54,0.18],[12.66,0.18],[12.74,0.31],[12.82,0.31],[12.9,0.23],[12.97,0.25],[13.05,0.28],[13.13,0.31],[13.21,0.39],[13.27,0.47],
  [13.3,0.85],[13.33,1.42],[13.37,2.0],[13.41,2.12],[13.43,1.73],[13.45,1.46],[13.51,1.29],[13.35,0.85],[13.56,0.49],[13.64,0.39],[13.76,0.49],[13.88,0.49],[13.97,0.21],[14.12,0.26],
  [14.23,0.53],[14.25,1.27],[14.27,0.87],[14.31,2.29],[14.47,0.87],[14.55,0.47],[14.67,0.45],[14.71,0.34],[14.86,0.49],[15.18,0.49],
  [15.3,0.92],[15.3,2.0],[15.37,2.02],[15.41,1.73],[15.45,1.29],[15.22,0.52],[15.45,0.53],[15.65,0.55],[15.81,0.52],[15.93,0.47],
  [16.4,2.47],[16.44,0.73],[16.56,0.49],[16.63,0.39],[16.75,0.39],[16.87,0.39],
  [17.11,0.18],[17.15,0.26],[17.23,0.35],[17.26,0.45],[17.3,0.55],[17.34,0.65],[17.38,0.75],[17.34,1.22],[17.38,1.46],[17.46,0.58],[17.54,0.43],[17.62,0.31],[17.7,0.21],[17.78,0.18],[17.85,0.21],[17.93,0.18],[18.01,0.11],[18.09,0.15],[18.17,0.21],[18.25,0.25],
  [18.25,0.68],[18.27,0.88],[18.31,0.98],[18.37,1.99],[18.41,1.48],[18.45,1.25],[18.48,0.85],[18.37,0.49],[18.48,0.08],[18.6,0.31],[18.72,0.28],[18.84,0.28],[18.92,0.18],
  [19.19,0.11],[19.27,0.2],[19.31,0.35],[19.35,0.92],[19.35,1.9],[19.39,1.29],[19.39,1.67],[19.43,2.24],[19.47,1.29],[19.35,2.32],[19.43,2.64],[19.35,3.3],[19.41,3.69],[19.55,0.65],[19.63,0.4],[19.74,0.31],[19.86,0.25],[19.98,0.17],
  [20.1,0.05],[20.18,0.17],[20.22,0.25],[20.26,0.36],[20.3,1.67],[20.31,2.5],[20.3,2.84],[20.34,3.49],[20.39,3.54],[20.36,4.33],[20.44,2.45],[20.45,2.37],[20.37,2.05],[20.45,1.99],[20.57,0.73],[20.69,0.45],[20.77,0.35],[20.89,0.26],
  [21.0,0.08],[21.12,0.08],[21.2,0.08],[21.24,0.47],[21.26,0.67],[21.28,0.93],[21.32,2.57],[21.36,3.79],[21.33,2.24],[21.44,2.31],[21.4,1.93],[21.44,1.52],[21.4,0.93]
];

// ---- drawing ----
Chart.defaults.font.family = '"Liberation Serif", "Times New Roman", serif';
Chart.defaults.color = '#000';

const SERIF = '"Liberation Serif", "Times New Roman", serif';
const toPoints = arr => arr.map(p => ({x: p[0], y: p[1]}));

function drawYTitle(ctx, cx, cy) {
    const big = '85px ' + SERIF, small = '54px ' + SERIF;
    const parts = [['Flow rate (m', big, 0, 0], ['3', small, -38, 8], ['/s)', big, 0, 6]];
    let total = 0;
    parts.forEach(p => { ctx.font = p[1]; p.push(ctx.measureText(p[0]).width); total += p[4] + p[3]; });
    ctx.save();
    ctx.translate(cx, cy);
    ctx.rotate(-Math.PI / 2);
    ctx.textAlign = 'left';
    ctx.textBaseline = 'alphabetic';
    let x = -total / 2;
    parts.forEach(p => {
        x += p[3];
        ctx.font = p[1];
        ctx.fillText(p[0], x, 28 + p[2]);
        x += p[4];
    });
    ctx.restore();
}

// draws the frame, the train/test markers, panel texts, legend and axis titles
const decorations = {
    id: 'decorations',
    afterDraw(chart, args, o) {
        const {ctx, chartArea: a, scales: {x}} = chart;
        const w = a.right - a.left;
        ctx.save();

        ctx.strokeStyle = '#2b2b2b';
        ctx.lineWidth = 3;
        ctx.strokeRect(a.left, a.top, w, a.bottom - a.top);

        ctx.strokeStyle = '#000';
        ctx.lineWidth = 2.5;
        ctx.setLineDash([10, 7]);
        o.split.forEach(v => {
            const px = x.getPixelForValue(v);
            ctx.beginPath();
            ctx.moveTo(px, a.top);
            ctx.lineTo(px, a.bottom);
            ctx.stroke();
        });
        ctx.setLineDash([]);

        ctx.fillStyle = '#000';
        ctx.textBaseline = 'alphabetic';
        ctx.font = '88px ' + SERIF;
        ctx.textAlign = 'left';
        ctx.fillText(o.label, a.left + 10, a.top + 82);
        ctx.textAlign = 'center';
        ctx.fillText('Train', a.left + 0.391 * w, a.top + 82);
        ctx.textAlign = 'left';
        ctx.fillText('Test', x.getPixelForValue(o.split[0]) + 6, a.top + 82);

        // legend
        ctx.fillStyle = '#ff0000';
        ctx.fillRect(a.right - 565, a.top + 81, 17, 17);
        ctx.strokeStyle = '#0000ff';
        ctx.lineWidth = 3.6;
        ctx.beginPath();
        ctx.moveTo(a.right - 622, a.top + 178);
        ctx.lineTo(a.right - 487, a.top + 178);
        ctx.stroke();
        ctx.fillStyle = '#000';
        ctx.font = '66px ' + SERIF;
        ctx.fillText('Measured', a.right - 434, a.top + 107);
        ctx.fillText('Model Output', a.right - 434, a.top + 201);

        // axis titles
        ctx.font = '85px ' + SERIF;
        ctx.textAlign = 'center';
        ctx.fillText('Time (Years)', (a.left + a.right) / 2, a.bottom + 156);
        drawYTitle(ctx, 140, (a.top + a.bottom) / 2);

        ctx.restore();
    }
};

function makePanel(id, model, measured, split, label, xMax, yMax, yStep, box) {
    const canvas = document.getElementById(id);
    const H = canvas.height, W = canvas.width;
    const tickStyle = {display: true, drawOnChartArea: false, drawTicks: true, tickLength: 14, color: '#2b2b2b', lineWidth: 3};
    return new Chart(canvas, {
        type: 'scatter',
        data: {
            datasets: [
                {
                    label: 'Model Output',
                    data: toPoints(model),
                    showLine: true,
                    borderColor: '#0000ff',
                    borderWidth: 4,
                    pointRadius: 0,
                    tension: 0,
                    order: 0
                },
                {
                    label: 'Measured',
                    data: toPoints(measured),
                    showLine: false,
                    pointStyle: 'rect',
                    pointRadius: 12,
                    pointBorderWidth: 0,
                    backgroundColor: '#ff0000',
                    borderColor: '#ff0000',
                    order: 1
                }
            ]
        },
        options: {
            responsive: false,
            animation: false,
            events: [],
            layout: {padding: {left: 0, top: box.top, right: W - box.right, bottom: 0}},
            plugins: {
                legend: {display: false},
                tooltip: {enabled: false},
                decorations: {split: split, label: label}
            },
            scales: {
                x: {
                    type: 'linear',
                    min: 0, max: xMax,
                    grid: tickStyle,
                    border: {display: false},
                    ticks: {stepSize: 5, includeBounds: false, padding: 0, maxRotation: 0,
                            font: {family: SERIF, size: 60}, color: '#000'},
                    afterFit: s => { s.height = H - box.bottom; }
                },
                y: {
                    type: 'linear',
                    min: 0, max: yMax,
                    grid: tickStyle,
                    border: {display: false},
                    ticks: {stepSize: yStep, includeBounds: false, padding: 15,
                            font: {family: '"DejaVu Sans", sans-serif', size: 48}, color: '#000',
                            callback: v => v.toFixed(1)},
                    afterFit: s => { s.width = box.left; }
                }
            }
        },
        plugins: [decorations]
    });
}

makePanel('panel1', s1Model, s1Measured, s1Split, 'Station 1  (a)', 30, 10, 2, {left: 344, right: 3432, top: 47, bottom: 1047});
makePanel('panel2', s2Model, s2Measured, s2Split, 'Station 2  (b)', 30, 15, 2, {left: 344, right: 3432, top: 50, bottom: 1049});
makePanel('panel3', s3Model, s3Measured, s3Split, 'Station 3  (c)', 35, 5, 1, {left: 315, right: 3434, top: 50, bottom: 1063});
</script>
</body>
</html>
